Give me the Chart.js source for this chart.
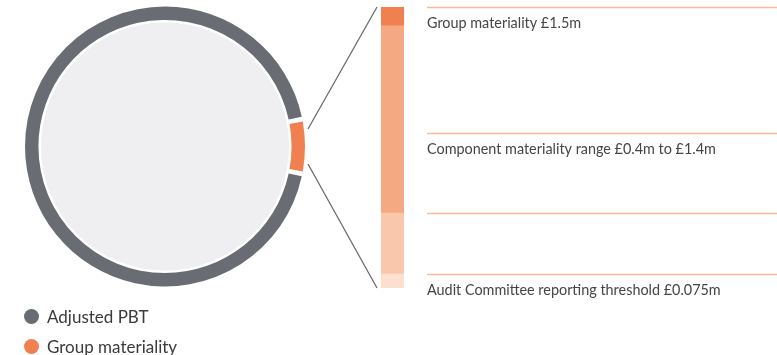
<!DOCTYPE html>
<html>
<head>
<meta charset="utf-8">
<script src="https://cdn.jsdelivr.net/npm/chart.js@4.4.0/dist/chart.umd.min.js"></script>
<style>
html, body { margin: 0; padding: 0; background: #fff; width: 777px; height: 355px; overflow: hidden; font-family: Lato, sans-serif; }
#pie { position: absolute; left: 0; top: 0; }
#bars { position: absolute; left: 0; top: 0; pointer-events: none; }
#legend { position: absolute; left: 24px; top: 301px; }
.item { display: flex; align-items: center; height: 30px; font-size: 17px; color: #3a3a3a; }
.dot { width: 15px; height: 15px; border-radius: 50%; margin-right: 8px; }
</style>
</head>
<body>
<canvas id="pie" width="330" height="293"></canvas>
<canvas id="bars" width="777" height="355"></canvas>
<div id="legend"></div>
<script>
// doughnut: adjusted PBT with group materiality slice (£m)
var pieLabels = ['Adjusted PBT', 'Group materiality'];
var pieValues = [24.5, 1.5];
var pieColors = ['#6a6c73', '#f0804f'];

// materiality bands on the right (£m)
var bandLow = [0, 0.075, 0.4, 1.4];
var bandHigh = [0.075, 0.4, 1.4, 1.5];
var bandColors = ['#fde0cf', '#f9c7ac', '#f4a982', '#f0804f'];

// label lines
var markValues = [1.5, 0.83, 0.4, 0.075];
var markTexts = ['Group materiality £1.5m', 'Component materiality range £0.4m to £1.4m', '', 'Audit Committee reporting threshold £0.075m'];

var total = pieValues[0] + pieValues[1];
var share = pieValues[1] / total;

var innerFill = {
    id: 'innerFill',
    beforeDatasetsDraw: function(chart) {
        var arc = chart.getDatasetMeta(0).data[0];
        var ctx = chart.ctx;
        ctx.save();
        ctx.fillStyle = '#efeff2';
        ctx.beginPath();
        ctx.arc(arc.x, arc.y, arc.innerRadius - 1, 0, Math.PI * 2);
        ctx.fill();
        ctx.restore();
    }
};

var pieChart = new Chart(document.getElementById('pie').getContext('2d'), {
    type: 'doughnut',
    data: {
        labels: pieLabels,
        datasets: [{
            data: pieValues,
            backgroundColor: pieColors,
            borderWidth: 0,
            spacing: 3
        }]
    },
    options: {
        responsive: false,
        animation: false,
        cutout: '90.3%',
        rotation: 90 + 180 * share,
        layout: { padding: 6.5 },
        plugins: { legend: { display: false }, tooltip: { enabled: false } }
    },
    plugins: [innerFill]
});

// html legend from the chart's own labels
var legendItems = pieChart.options.plugins.legend.labels.generateLabels(pieChart);
var legendBox = document.getElementById('legend');
legendItems.forEach(function(it) {
    var row = document.createElement('div');
    row.className = 'item';
    row.innerHTML = '<span class="dot" style="background:' + it.fillStyle + '"></span>' + it.text;
    legendBox.appendChild(row);
});

var marksPlugin = {
    id: 'marks',
    afterDraw: function(chart) {
        var ctx = chart.ctx;
        var y = chart.scales.y;
        var area = chart.chartArea;
        ctx.save();
        ctx.strokeStyle = '#f7bb98';
        ctx.lineWidth = 1.5;
        ctx.fillStyle = '#454545';
        ctx.font = '14.4px Lato';
        ctx.textBaseline = 'alphabetic';
        for (var i = 0; i < markValues.length; i++) {
            var py = Math.round(y.getPixelForValue(markValues[i])) + 0.5;
            ctx.beginPath();
            ctx.moveTo(427, py);
            ctx.lineTo(777, py);
            ctx.stroke();
            if (markTexts[i]) ctx.fillText(markTexts[i], 427, py + 20);
        }
        // connectors from the materiality slice to the bar
        var arc = pieChart.getDatasetMeta(0).data[1];
        var sx = arc.x + arc.outerRadius + 4.5;
        var dy = arc.outerRadius * Math.sin(Math.PI * share) * 0.7;
        ctx.strokeStyle = '#6a6c73';
        ctx.lineWidth = 1.3;
        ctx.beginPath();
        ctx.moveTo(sx, arc.y - dy);
        ctx.lineTo(area.left - 4, y.getPixelForValue(y.max));
        ctx.moveTo(sx, arc.y + dy);
        ctx.lineTo(area.left - 4, y.getPixelForValue(y.min));
        ctx.stroke();
        ctx.restore();
    }
};

new Chart(document.getElementById('bars').getContext('2d'), {
    type: 'bar',
    data: {
        labels: ['materiality'],
        datasets: bandLow.map(function(lo, i) {
            return {
                data: [[lo, bandHigh[i]]],
                backgroundColor: bandColors[i],
                borderWidth: 0,
                grouped: false,
                barPercentage: 1,
                categoryPercentage: 1
            };
        })
    },
    options: {
        responsive: false,
        animation: false,
        layout: { padding: { left: 381, right: 373, top: 7, bottom: 67 } },
        scales: {
            x: { display: false },
            y: { display: false, min: 0, max: 1.5 }
        },
        plugins: { legend: { display: false }, tooltip: { enabled: false } }
    },
    plugins: [marksPlugin]
});
</script>
</body>
</html>
